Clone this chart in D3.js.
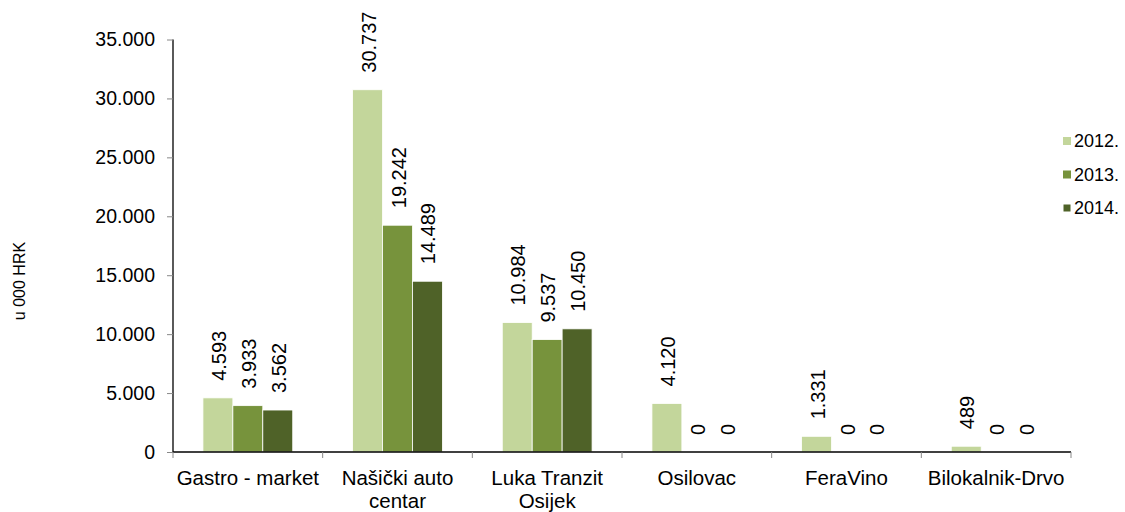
<!DOCTYPE html>
<html>
<head>
<meta charset="utf-8">
<script src="https://cdn.jsdelivr.net/npm/d3@7"></script>
<style>
  html, body { margin: 0; padding: 0; background: #fff; }
  svg { display: block; font-family: "Liberation Sans", Arial, sans-serif; }
</style>
</head>
<body>
<svg id="chart" width="1125" height="512"></svg>
<script>
const categories = [["Gastro - market"], ["Našički auto", "centar"], ["Luka Tranzit", "Osijek"], ["Osilovac"], ["FeraVino"], ["Bilokalnik-Drvo"]];
const seriesNames = ["2012.", "2013.", "2014."];
const values2012 = [4593, 30737, 10984, 4120, 1331, 489];
const values2013 = [3933, 19242, 9537, 0, 0, 0];
const values2014 = [3562, 14489, 10450, 0, 0, 0];
const yTicks = [0, 5000, 10000, 15000, 20000, 25000, 30000, 35000];
const colors = ["#c3d69b", "#77933c", "#4f6228"];
const yTitle = "u 000 HRK";

const series = [values2012, values2013, values2014];
const svg = d3.select("#chart");
const mLeft = 173, mRight = 1071, mTop = 39.5, mBottom = 452;

const fmt = d3.formatLocale({decimal: ",", thousands: ".", grouping: [3], currency: ["", ""]}).format(",d");

const x0 = d3.scaleBand().domain(d3.range(categories.length)).range([mLeft, mRight]).paddingInner(0).paddingOuter(0);
const x1 = d3.scaleBand().domain(d3.range(series.length)).range([x0.bandwidth() * 0.2, x0.bandwidth() * 0.8]);
const y = d3.scaleLinear().domain([0, 35000]).range([mBottom, mTop]);

// bars
series.forEach((vals, si) => {
  svg.append("g").selectAll("rect").data(vals).join("rect")
    .attr("x", (d, i) => x0(i) + x1(si))
    .attr("y", d => y(d))
    .attr("width", x1.bandwidth())
    .attr("height", d => Math.max(0, mBottom - y(d)))
    .attr("fill", colors[si])
    .attr("stroke", d => d > 0 ? "#ffffff" : "none")
    .attr("stroke-width", 0.8);
  svg.append("g").selectAll("text").data(vals).join("text")
    .attr("transform", (d, i) => `translate(${x0(i) + x1(si) + x1.bandwidth() / 2 + 1},${y(d) - 17}) rotate(-90)`)
    .attr("dy", "0.35em")
    .attr("text-anchor", "start")
    .attr("font-size", 20)
    .attr("fill", "#000")
    .text(d => fmt(d));
});

// y axis
const yAxis = d3.axisLeft(y).tickValues(yTicks).tickSize(6).tickPadding(12).tickFormat(d => fmt(d));
const gy = svg.append("g").attr("transform", `translate(${mLeft},0)`).call(yAxis);
gy.select(".domain").attr("stroke", "#000").attr("stroke-width", 1.3).attr("d", `M0,${mTop}V${mBottom}`);
gy.selectAll(".tick line").attr("stroke", "#888");
gy.selectAll(".tick text").attr("font-size", 19.5).attr("fill", "#000").attr("font-family", "Liberation Sans, Arial, sans-serif");

// x axis
const xb = d3.scaleLinear().domain([0, categories.length]).range([mLeft, mRight]);
const gx = svg.append("g").attr("transform", `translate(0,${mBottom})`);
gx.append("line").attr("x1", mLeft).attr("x2", mRight).attr("stroke", "#000").attr("stroke-width", 1.5);
gx.selectAll("line.t").data(d3.range(categories.length + 1)).join("line").attr("class", "t")
  .attr("x1", d => xb(d)).attr("x2", d => xb(d)).attr("y1", 0).attr("y2", 6).attr("stroke", "#888");
const labels = gx.selectAll("text").data(categories).join("text")
  .attr("text-anchor", "middle")
  .attr("font-size", 20.5)
  .attr("fill", "#000");
labels.each(function(lines, i) {
  d3.select(this).selectAll("tspan").data(lines).join("tspan")
    .attr("x", x0(i) + x0.bandwidth() / 2)
    .attr("y", (l, j) => 33 + j * 22.5)
    .text(l => l);
});

// y title
svg.append("text")
  .attr("transform", "translate(25,281) rotate(-90)")
  .attr("text-anchor", "middle")
  .attr("font-size", 16)
  .attr("fill", "#000")
  .text(yTitle);

// legend
const legY = [141, 174.5, 208];
const sq = [8, 8, 7];
const leg = svg.append("g");
seriesNames.forEach((name, i) => {
  leg.append("rect").attr("x", 1063 + (8 - sq[i]) / 2).attr("y", legY[i] - sq[i] / 2).attr("width", sq[i]).attr("height", sq[i]).attr("fill", colors[i]);
  leg.append("text").attr("x", 1074).attr("y", legY[i]).attr("dy", "0.35em").attr("font-size", 18).attr("fill", "#000").text(name);
});
</script>
</body>
</html>
